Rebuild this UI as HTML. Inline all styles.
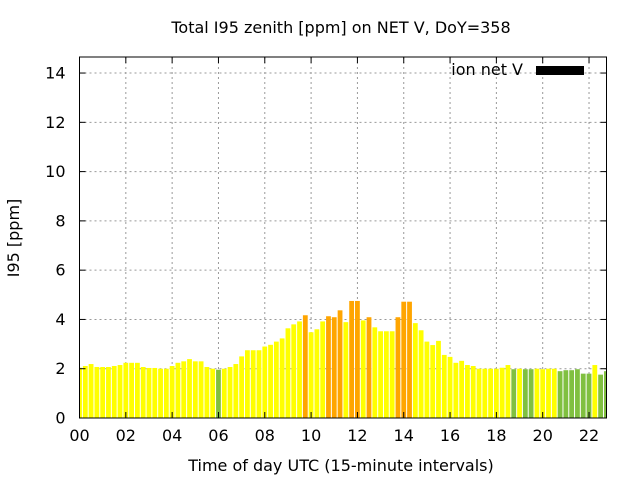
<!DOCTYPE html>
<html><head><meta charset="utf-8"><style>
body{margin:0;background:#fff}
svg text{font-family:"DejaVu Sans","Liberation Sans",sans-serif;fill:#000}
</style></head><body>
<svg id="chart" width="640" height="480">
<defs><clipPath id="plotclip"><rect x="80" y="57" width="527" height="361"/></clipPath></defs>
<text x="341" y="33" font-size="16" text-anchor="middle">Total I95 zenith [ppm] on NET V, DoY=358</text>
<text x="0" y="0" font-size="16" text-anchor="middle" transform="translate(19,238) rotate(-90)">I95 [ppm]</text>
<text x="341" y="471" font-size="16" text-anchor="middle">Time of day UTC (15-minute intervals)</text>
<g id="grid"></g><g id="bars" clip-path="url(#plotclip)"></g><g id="axes"></g>
<text x="523" y="75" font-size="16" text-anchor="end">ion net V</text>
<rect x="536" y="66" width="48" height="9" fill="#000"/>
</svg>
<script>
const values=[2.04,2.11,2.19,2.07,2.07,2.07,2.11,2.15,2.24,2.24,2.24,2.07,2.03,2.03,2.0,2.0,2.11,2.24,2.3,2.39,2.3,2.3,2.07,2.0,1.96,2.0,2.07,2.19,2.5,2.75,2.75,2.75,
2.9,2.97,3.1,3.23,3.64,3.8,3.92,4.17,3.48,3.6,3.92,4.13,4.09,4.37,3.89,4.75,4.75,3.96,4.09,3.68,3.52,3.52,3.52,4.09,4.72,4.72,3.85,3.56,
3.1,2.96,3.13,2.56,2.48,2.24,2.32,2.15,2.11,2.0,2.0,2.0,2.0,2.04,2.15,1.98,2.0,1.98,1.98,2.0,1.98,2.0,2.0,1.9,1.94,1.94,1.98,1.8,1.8,2.15,1.76,1.9];
const orangeBars=[39,43,44,45,47,48,50,55,56,57];
const greenBars=[24,75,77,78,83,84,85,86,87,88,90,91];
const yTicks=[0,2,4,6,8,10,12,14];
const xTicks=["00","02","04","06","08","10","12","14","16","18","20","22"];
const X0=79.5,X1=606.5,Y0=418,YT=57,step=5.79,ppu=24.64;
const xs=i=>X0+i*step, ys=v=>Y0-v*ppu;
const NS="http://www.w3.org/2000/svg";
function mk(p,t,a){const e=document.createElementNS(NS,t);for(const k in a)e.setAttribute(k,a[k]);p.appendChild(e);return e;}
const grid=document.getElementById('grid'),bars=document.getElementById('bars'),axes=document.getElementById('axes');
yTicks.forEach(v=>{const y=ys(v);
 if(v>0){const l=mk(grid,'line',{x1:X0,x2:X1,y1:y,y2:y,stroke:'#999','stroke-dasharray':'2,3'});
 
 }
 const t=mk(axes,'text',{x:X0-14,y:y+5.5,'font-size':16,'text-anchor':'end'});t.textContent=v;
 
 
 mk(axes,'line',{x1:X0,x2:X0+6,y1:y,y2:y,stroke:'#000'});mk(axes,'line',{x1:X1,x2:X1-6,y1:y,y2:y,stroke:'#000'});
});
xTicks.forEach((s,k)=>{const x=xs(k*8);
 if(k>0){const l=mk(grid,'line',{x1:x,x2:x,y1:YT,y2:Y0,stroke:'#999','stroke-dasharray':'2,3'});
 
 }
 const t=mk(axes,'text',{x:x,y:Y0+23,'font-size':16,'text-anchor':'middle'});t.textContent=s;
 
 
 mk(axes,'line',{x1:x,x2:x,y1:Y0,y2:Y0-6,stroke:'#000'});mk(axes,'line',{x1:x,x2:x,y1:YT,y2:YT+6,stroke:'#000'});
});
const bw=4.8;
values.forEach((v,i)=>{const x=xs(i)-bw/2;
 const c=orangeBars.includes(i)?'#ffa500':greenBars.includes(i)?'#80c040':'#ffff00';
 const r=mk(bars,'rect',{x:x,y:ys(v),width:bw,height:Y0-ys(v),fill:c});
 
 
});
const b=mk(axes,'rect',{x:X0,y:YT,width:X1-X0,height:Y0-YT,fill:'none',stroke:'#000','stroke-width':1});


</script>
</body></html>
